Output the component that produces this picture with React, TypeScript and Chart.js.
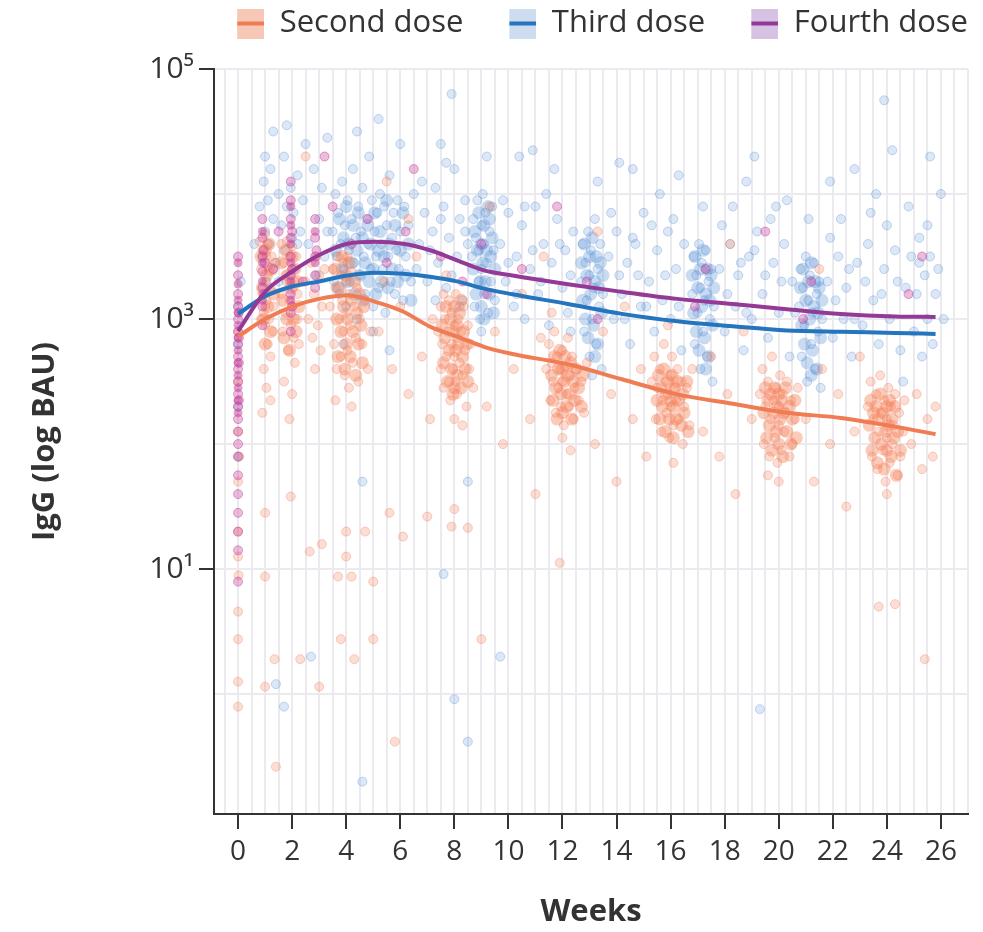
import React, { useEffect, useRef } from "react";
import { Chart, registerables } from "chart.js";

Chart.register(...registerables);

const FONT = "'Open Sans', 'Noto Sans', 'DejaVu Sans', sans-serif";

const seriesLabels = ["Second dose", "Third dose", "Fourth dose"];
const lineColors = ["rgb(240,124,84)", "rgb(36,116,190)", "rgb(148,58,150)"];
const pointFill = ["rgba(246,128,90,0.26)", "rgba(80,140,214,0.2)", "rgba(204,70,160,0.36)"];
const pointBorder = ["rgba(240,120,84,0.34)", "rgba(70,130,205,0.3)", "rgba(190,60,150,0.46)"];
const coreFill = ["rgba(246,128,88,0.42)", "rgba(74,136,210,0.3)", "rgba(196,60,150,0.5)"];
const swatchFill = ["rgb(247,200,182)", "rgb(206,220,240)", "rgb(214,195,228)"];

// fitted curves: weeks and IgG (BAU)
const curveWeeks = [0, 1, 2, 3, 4.05, 5.05, 6.1, 7.1, 8.1, 9.1, 10.15, 12.2, 14.2, 16.25, 18.3, 20.3, 22.3, 24.3, 25.8];
const secondDoseCurve = [725, 1000, 1260, 1450, 1550, 1380, 1150, 870, 725, 600, 525, 435, 330, 250, 210, 178, 162, 138, 120];
const thirdDoseCurve = [1100, 1520, 1820, 2000, 2230, 2350, 2300, 2180, 2000, 1750, 1580, 1320, 1100, 960, 875, 810, 790, 775, 760];
const fourthDoseCurve = [800, 1650, 2400, 3250, 4000, 4150, 4000, 3550, 2950, 2450, 2230, 1900, 1650, 1450, 1320, 1200, 1100, 1050, 1040];

const xTickLabels = [0, 2, 4, 6, 8, 10, 12, 14, 16, 18, 20, 22, 24, 26];
const xMin = -0.89;
const xMax = 27;
const yTickLabels: Record<number, string> = { 100000: "10⁵", 1000: "10³", 10: "10¹" };
const yGridValues = [1, 10, 100, 1000, 10000, 100000];
const yMin = 0.11;
const yMax = 100000;

// individual measurements: [week, log10 IgG]
const secondDoseScatter: [number, number][] = [
  [0, 2.9], [0, 2.5], [0, 2.1], [0, 1.7], [0, 1.3], [0, 0.66], [0, 0.44], [0.02, 0.95], [0, 0.1], [0, -0.1], [0, 1.1], [0.05, 1.9],
  [0.8, 3.62], [0.85, 3.4], [0.9, 3.55], [0.9, 3.2], [0.95, 3.05], [1.0, 3.68], [1.0, 3.3], [1.0, 2.95], [1.05, 3.5], [1.05, 3.15], [1.1, 2.8], [1.1, 3.6], [1.15, 3.38], [1.15, 3.0], [1.2, 3.25], [1.2, 2.7], [1.25, 3.5], [1.3, 3.1], [1.3, 2.9], [0.95, 2.6], [1.05, 2.45], [0.9, 2.25], [1.2, 2.35], [1.0, 1.45], [1.0, 0.94], [1.0, 0.06], [1.35, 3.45], [0.85, 3.0], [1.1, 3.42], [1.0, 3.1],
  [1.6, 3.6], [1.6, 3.2], [1.65, 2.9], [1.7, 3.45], [1.75, 3.05], [1.8, 3.62], [1.8, 3.3], [1.85, 2.75], [1.9, 3.15], [1.9, 3.5], [1.95, 2.95], [2.0, 3.4], [2.0, 3.58], [2.0, 3.1], [2.05, 2.85], [2.1, 3.3], [2.1, 2.65], [2.15, 3.5], [2.2, 3.0], [2.2, 3.2], [2.25, 2.8], [1.7, 2.5], [2.0, 2.4], [1.95, 1.58], [2.3, 0.28], [1.35, 0.28], [1.4, -0.58], [1.9, 2.2], [2.05, 3.25], [1.75, 3.35],
  [2.5, 3.3], [2.6, 3.0], [2.65, 1.14], [2.7, 3.45], [2.75, 2.85], [2.8, 3.2], [2.9, 3.5], [2.95, 2.95], [3.0, 3.35], [3.0, 0.06], [3.05, 2.75], [3.1, 1.2], [3.1, 3.1], [3.2, 3.4], [2.85, 2.6],
  [3.4, 3.1], [3.5, 3.4], [3.55, 2.8], [3.6, 3.25], [3.65, 2.6], [3.7, 3.5], [3.7, 0.94], [3.75, 3.0], [3.8, 3.35], [3.8, 2.7], [3.8, 0.44], [3.85, 3.15], [3.9, 2.9], [3.9, 3.45], [3.95, 2.55], [4.0, 3.3], [4.0, 3.05], [4.0, 1.1], [4.05, 2.75], [4.05, 3.5], [4.1, 3.2], [4.1, 2.45], [4.15, 2.95], [4.2, 3.38], [4.2, 0.94], [4.25, 2.65], [4.3, 3.1], [4.3, 0.28], [4.35, 2.85], [4.4, 3.25], [4.45, 2.5], [4.5, 3.0], [4.6, 2.8], [4.7, 1.3], [4.7, 3.15], [4.8, 2.6], [4.9, 2.9], [4.0, 1.3], [3.6, 2.35], [4.2, 2.3],
  [5.0, 0.44], [5.0, 0.9], [5.2, 2.9], [5.4, 3.3], [5.6, 1.45], [5.7, 2.6], [5.8, -0.38], [6.0, 3.1], [6.1, 1.26], [6.3, 2.4], [6.6, 3.5], [6.8, 2.7], [7.0, 1.42], [7.1, 2.2], [7.2, 3.0],
  [7.4, 2.9], [7.5, 3.1], [7.5, 2.6], [7.55, 2.8], [7.6, 3.2], [7.6, 2.45], [7.65, 3.0], [7.7, 2.7], [7.75, 2.9], [7.8, 3.15], [7.8, 2.5], [7.85, 2.35], [7.9, 2.8], [7.9, 3.05], [7.9, 1.34], [7.95, 2.6], [8.0, 2.95], [8.0, 2.7], [8.0, 1.48], [8.05, 3.2], [8.05, 2.5], [8.1, 2.85], [8.1, 2.4], [8.15, 3.0], [8.2, 2.65], [8.25, 2.9], [8.3, 2.55], [8.35, 3.1], [8.4, 2.75], [8.45, 2.3], [8.5, 2.95], [8.5, 1.33], [8.55, 2.6], [8.6, 2.8], [8.7, 2.45], [8.0, 2.2], [7.7, 3.35], [8.3, 2.15],
  [9.0, 0.44], [9.2, 2.3], [9.5, 2.9], [9.8, 2.0], [10.2, 2.6], [10.5, 3.2], [10.8, 2.2], [11.0, 1.6], [11.2, 2.85],
  [11.4, 2.6], [11.5, 2.8], [11.55, 2.35], [11.6, 2.65], [11.65, 2.5], [11.7, 2.9], [11.75, 2.25], [11.8, 2.7], [11.85, 2.45], [11.9, 2.6], [11.9, 1.05], [11.95, 2.3], [12.0, 2.75], [12.0, 2.5], [12.05, 2.15], [12.1, 2.62], [12.15, 2.4], [12.2, 2.85], [12.25, 2.3], [12.3, 2.55], [12.35, 2.7], [12.4, 2.2], [12.45, 2.45], [12.5, 2.6], [12.6, 2.35], [12.7, 2.5], [12.8, 2.25], [12.9, 2.65], [12.0, 2.05], [12.3, 1.95], [11.6, 3.05],
  [13.2, 2.0], [13.5, 2.9], [13.8, 2.4], [14.0, 1.7], [14.3, 3.1], [14.6, 2.2], [14.9, 2.6], [15.1, 1.9],
  [15.3, 2.5], [15.4, 2.7], [15.45, 2.2], [15.5, 2.45], [15.6, 2.6], [15.65, 2.1], [15.7, 2.35], [15.75, 2.8], [15.8, 2.5], [15.85, 2.25], [15.9, 2.4], [15.95, 2.05], [16.0, 2.55], [16.0, 2.3], [16.05, 2.7], [16.1, 2.15], [16.15, 2.45], [16.2, 2.35], [16.25, 2.6], [16.3, 2.2], [16.4, 2.5], [16.45, 2.0], [16.5, 2.3], [16.6, 2.45], [16.7, 2.15], [16.8, 2.6], [16.1, 1.85], [15.9, 2.95],
  [17.2, 2.1], [17.5, 2.7], [17.8, 1.9], [18.1, 2.4], [18.4, 1.6], [18.7, 2.9], [19.0, 2.2],
  [19.3, 2.4], [19.4, 2.6], [19.45, 2.0], [19.5, 2.3], [19.6, 2.5], [19.65, 1.9], [19.7, 2.2], [19.75, 2.7], [19.8, 2.35], [19.85, 2.05], [19.9, 2.45], [19.95, 1.85], [20.0, 2.3], [20.0, 2.15], [20.05, 2.55], [20.1, 1.95], [20.15, 2.4], [20.2, 2.1], [20.25, 2.25], [20.3, 2.5], [20.4, 1.9], [20.45, 2.35], [20.5, 2.0], [20.6, 2.2], [20.7, 2.45], [20.0, 1.7], [19.6, 1.75],
  [21.0, 2.2], [21.3, 1.7], [21.6, 2.6], [21.9, 2.0], [22.2, 2.4], [22.5, 1.5], [22.8, 2.1], [23.0, 2.7],
  [23.3, 2.3], [23.4, 2.5], [23.45, 1.9], [23.5, 2.2], [23.6, 2.4], [23.65, 1.8], [23.7, 2.1], [23.75, 2.55], [23.8, 2.25], [23.85, 1.95], [23.9, 2.35], [23.95, 1.7], [24.0, 2.2], [24.0, 2.05], [24.05, 2.45], [24.1, 1.85], [24.15, 2.3], [24.2, 2.0], [24.25, 2.15], [24.3, 2.4], [24.4, 1.75], [24.45, 2.25], [24.5, 1.9], [24.6, 2.1], [24.65, 2.35], [24.0, 1.6], [23.7, 0.7], [24.3, 0.72],
  [24.9, 2.0], [25.1, 2.4], [25.3, 1.8], [25.4, 0.28], [25.5, 2.2], [25.7, 1.9], [25.8, 2.3],
  [2.5, 4.3], [5.5, 4.1], [9.3, 3.9], [13.3, 3.7], [18.2, 3.6], [21.5, 3.4], [6.3, 3.8], [11.3, 3.5],
];

// dense clusters of the second-dose measurements: [week, log10 IgG]
const secondDoseCore: [number, number][] = [
  [0.85, 3.5], [0.9, 3.25], [0.95, 3.0], [1.0, 3.55], [1.0, 2.8], [1.05, 3.35], [1.1, 3.1], [1.15, 3.6], [1.2, 2.9], [1.25, 3.4], [1.3, 3.2], [1.6, 3.45], [1.65, 3.15], [1.7, 2.85], [1.75, 3.55], [1.8, 3.0], [1.85, 3.35], [1.9, 2.75], [1.95, 3.25], [2.0, 3.5], [2.05, 3.0], [2.1, 3.4], [2.15, 2.9], [2.2, 3.3], [2.25, 3.1],
  [3.6, 3.4], [3.65, 3.0], [3.7, 2.7], [3.75, 3.25], [3.8, 2.9], [3.85, 3.5], [3.9, 3.1], [3.95, 2.6], [4.0, 3.35], [4.0, 2.8], [4.05, 3.0], [4.1, 3.45], [4.15, 2.7], [4.2, 3.15], [4.25, 2.9], [4.3, 3.3], [4.35, 2.55], [4.4, 3.05], [4.45, 2.8], [4.5, 3.2], [4.55, 2.95], [4.6, 2.65], [4.65, 3.1],
  [7.55, 2.95], [7.6, 2.65], [7.65, 2.85], [7.7, 3.1], [7.75, 2.5], [7.8, 2.75], [7.85, 3.0], [7.9, 2.6], [7.95, 2.9], [8.0, 2.45], [8.0, 3.1], [8.05, 2.75], [8.1, 2.95], [8.1, 2.55], [8.15, 2.8], [8.2, 3.05], [8.25, 2.45], [8.3, 2.7], [8.35, 2.9], [8.4, 2.6], [8.45, 2.8], [8.5, 2.5], [7.95, 2.4], [8.25, 3.15],
  [11.6, 2.55], [11.65, 2.35], [11.7, 2.7], [11.75, 2.45], [11.8, 2.2], [11.85, 2.6], [11.9, 2.75], [11.95, 2.4], [12.0, 2.6], [12.0, 2.25], [12.05, 2.5], [12.1, 2.7], [12.15, 2.3], [12.2, 2.55], [12.25, 2.4], [12.3, 2.65], [12.35, 2.2], [12.4, 2.5], [12.45, 2.35], [12.5, 2.6], [12.6, 2.45], [12.7, 2.3], [12.75, 2.55],
  [15.5, 2.35], [15.55, 2.55], [15.6, 2.2], [15.65, 2.45], [15.7, 2.3], [15.75, 2.6], [15.8, 2.1], [15.85, 2.4], [15.9, 2.5], [15.95, 2.2], [16.0, 2.35], [16.05, 2.55], [16.1, 2.05], [16.1, 2.3], [16.15, 2.45], [16.2, 2.2], [16.25, 2.5], [16.3, 2.35], [16.4, 2.15], [16.45, 2.4], [16.5, 2.25], [16.6, 2.5], [16.65, 2.1],
  [19.45, 2.25], [19.5, 2.45], [19.55, 2.05], [19.6, 2.35], [19.65, 2.15], [19.7, 2.4], [19.75, 1.95], [19.8, 2.25], [19.85, 2.45], [19.9, 2.1], [19.95, 2.3], [20.0, 2.0], [20.0, 2.4], [20.05, 2.2], [20.1, 2.35], [20.15, 1.9], [20.2, 2.25], [20.25, 2.45], [20.3, 2.1], [20.4, 2.3], [20.45, 2.0], [20.5, 2.2], [20.6, 2.35], [20.65, 2.05],
  [23.35, 2.15], [23.4, 2.35], [23.45, 1.95], [23.5, 2.25], [23.55, 2.05], [23.6, 2.3], [23.65, 1.85], [23.7, 2.2], [23.75, 2.4], [23.8, 2.0], [23.85, 2.25], [23.9, 1.8], [23.95, 2.1], [24.0, 2.3], [24.0, 1.95], [24.05, 2.15], [24.1, 2.35], [24.15, 1.9], [24.2, 2.2], [24.25, 2.05], [24.3, 2.3], [24.35, 1.75], [24.4, 2.1], [24.5, 1.95],
];

const thirdDoseScatter: [number, number][] = [
  [0, 3.1], [0, 2.8], [0, 2.3], [0.1, 3.3], [0, 1.9],
  [0.8, 3.9], [0.9, 3.5], [0.95, 4.1], [1.0, 3.7], [1.05, 3.3], [1.1, 3.95], [1.15, 3.6], [1.2, 4.2], [1.3, 3.8], [1.4, 3.45], [1.5, 4.0], [1.6, 3.75], [1.7, 4.3], [1.75, 3.55], [1.8, 3.9], [1.9, 3.3], [1.95, 4.05], [2.0, 3.65], [2.05, 3.85], [2.1, 3.4], [2.2, 4.15], [2.3, 3.7], [1.4, 0.08], [1.7, -0.1], [2.7, 0.3], [1.3, 4.5], [2.4, 3.95], [2.6, 3.6], [2.8, 4.2], [3.0, 3.8], [3.2, 3.5],
  [3.5, 3.7], [3.55, 3.3], [3.6, 4.0], [3.65, 3.5], [3.7, 3.85], [3.75, 3.2], [3.8, 3.6], [3.85, 4.1], [3.9, 3.4], [3.95, 3.75], [4.0, 3.1], [4.05, 3.95], [4.1, 3.55], [4.15, 3.3], [4.2, 3.8], [4.25, 4.2], [4.3, 3.45], [4.35, 3.65], [4.4, 3.0], [4.45, 3.9], [4.5, 3.35], [4.55, 3.7], [4.6, 4.05], [4.65, 3.5], [4.7, 3.2], [4.75, 3.8], [4.8, 3.6], [4.85, 4.3], [4.9, 3.4], [4.95, 3.95], [5.0, 3.1], [5.05, 3.7], [5.1, 3.5], [5.15, 3.85], [5.2, 3.25], [5.25, 4.0], [5.3, 3.6], [5.35, 3.4], [5.4, 3.9], [5.45, 3.05], [5.5, 3.75], [5.55, 3.5], [5.6, 4.15], [5.65, 3.3], [5.7, 3.65], [5.75, 3.85], [5.8, 3.2], [5.85, 3.55], [5.9, 3.95], [5.95, 3.4], [6.0, 3.7], [6.1, 3.15], [6.15, 3.9], [6.2, 3.5], [6.3, 3.75], [6.4, 3.3], [6.5, 4.0], [4.6, 1.7], [4.6, -0.7], [4.4, 4.5], [5.2, 4.6], [6.0, 4.4], [3.9, 2.8], [5.0, 2.9], [5.6, 2.75],
  [6.7, 3.6], [6.9, 3.85], [7.0, 3.3], [7.2, 3.7], [7.3, 4.05], [7.4, 3.45], [7.6, 3.9], [7.6, 0.96], [7.7, 3.25], [7.8, 3.65], [8.0, 4.2], [8.0, -0.04], [8.1, 3.5], [8.2, 3.8], [8.3, 3.15], [8.4, 3.95], [8.5, 1.7], [8.5, -0.38], [8.5, 3.6],
  [8.65, 3.5], [8.7, 3.8], [8.75, 3.1], [8.8, 3.65], [8.85, 3.95], [8.9, 3.3], [8.9, 3.55], [8.95, 3.0], [9.0, 3.75], [9.0, 3.4], [9.05, 4.0], [9.1, 3.2], [9.1, 3.6], [9.15, 3.85], [9.2, 3.45], [9.25, 3.05], [9.3, 3.7], [9.35, 3.3], [9.4, 3.9], [9.45, 3.55], [9.5, 3.15], [9.0, 2.9], [9.2, 4.3], [9.7, 0.3],
  [9.7, 3.6], [9.9, 3.3], [10.0, 3.85], [10.2, 3.1], [10.3, 3.5], [10.5, 3.75], [10.6, 3.0], [10.8, 3.4], [11.0, 3.9], [11.1, 3.2], [11.3, 3.6], [11.5, 2.95], [11.6, 3.45], [11.8, 3.8], [12.0, 3.25], [12.1, 3.55], [12.3, 2.9], [12.4, 3.7], [10.4, 4.3], [11.7, 4.2], [12.2, 3.05],
  [12.7, 3.3], [12.75, 3.6], [12.8, 2.9], [12.85, 3.45], [12.9, 3.15], [12.95, 3.7], [13.0, 2.7], [13.0, 3.35], [13.05, 3.55], [13.1, 3.0], [13.15, 3.25], [13.2, 3.8], [13.25, 2.8], [13.3, 3.4], [13.35, 3.1], [13.4, 3.6], [13.45, 2.6], [13.5, 3.2], [13.1, 2.55], [13.3, 4.1],
  [13.7, 3.5], [13.9, 3.0], [14.0, 3.7], [14.2, 3.2], [14.4, 3.45], [14.5, 2.8], [14.7, 3.6], [14.9, 3.1], [15.0, 3.85], [15.2, 3.3], [15.4, 2.9], [15.5, 3.55], [15.7, 3.15], [15.9, 3.7], [16.0, 3.0], [16.2, 3.4], [16.4, 2.75], [16.5, 3.6], [14.6, 4.2], [15.6, 4.0],
  [16.8, 3.2], [16.85, 3.5], [16.9, 2.8], [16.95, 3.35], [17.0, 3.05], [17.05, 3.6], [17.1, 2.6], [17.1, 3.25], [17.15, 3.45], [17.2, 2.9], [17.25, 3.15], [17.3, 3.55], [17.35, 2.7], [17.4, 3.3], [17.45, 3.0], [17.5, 3.4], [17.55, 2.5], [17.6, 3.1], [17.2, 3.9],
  [17.8, 3.4], [18.0, 2.9], [18.2, 3.6], [18.4, 3.1], [18.5, 3.35], [18.7, 2.75], [18.9, 3.5], [19.0, 3.0], [19.2, 3.7], [19.3, -0.12], [19.4, 3.2], [19.6, 2.85], [19.8, 3.45], [20.0, 3.05], [20.2, 3.6], [20.4, 2.7], [20.5, 3.3], [18.8, 4.1], [19.9, 3.9],
  [20.75, 3.1], [20.8, 3.4], [20.85, 2.7], [20.9, 3.25], [20.95, 2.95], [21.0, 3.5], [21.05, 2.5], [21.1, 3.15], [21.15, 3.35], [21.2, 2.8], [21.25, 3.05], [21.3, 3.45], [21.35, 2.6], [21.4, 3.2], [21.45, 2.9], [21.5, 3.3], [21.55, 2.45], [21.6, 3.0], [21.1, 3.8],
  [21.8, 3.3], [22.0, 2.85], [22.2, 3.5], [22.4, 3.0], [22.5, 3.25], [22.7, 2.7], [22.9, 3.45], [23.1, 2.95], [23.3, 3.6], [23.5, 3.15], [23.7, 2.8], [23.9, 3.4], [24.1, 3.0], [24.3, 3.55], [24.5, 2.75], [24.7, 3.25], [24.9, 3.5], [25.0, 2.9], [25.1, 3.2], [25.2, 3.65], [25.3, 2.7], [25.4, 3.35], [25.5, 3.0], [25.6, 3.5], [25.7, 2.8], [25.8, 3.2], [23.6, 4.0], [25.6, 4.3], [22.8, 4.2], [24.6, 2.5],
  [1.8, 4.55], [3.3, 4.45], [7.5, 4.4], [10.9, 4.35], [14.1, 4.25], [16.3, 4.15], [19.1, 4.3], [21.9, 4.1], [24.2, 4.35], [26.0, 4.0], [7.9, 4.8], [23.9, 4.75],
  [0.6, 3.6], [1.0, 4.3], [1.5, 3.3], [2.2, 3.6], [2.5, 4.4], [2.9, 3.35], [3.1, 4.05], [3.3, 3.7], [6.6, 3.4], [6.8, 4.1], [7.1, 3.55], [7.3, 3.15], [7.5, 3.8], [7.7, 4.25], [7.9, 3.35], [8.2, 3.1], [8.4, 3.7], [9.8, 3.95], [10.0, 3.45], [10.3, 3.2], [10.6, 3.9], [10.9, 3.55], [11.2, 3.3], [11.4, 4.0], [11.9, 3.6], [12.3, 3.35], [13.8, 3.85], [14.1, 3.35], [14.3, 3.0], [14.6, 3.65], [14.8, 3.35], [15.1, 3.1], [15.3, 3.75], [15.8, 3.35], [16.1, 3.8], [16.3, 3.1], [17.9, 3.75], [18.1, 3.2], [18.3, 3.9], [18.6, 3.45], [18.8, 3.05], [19.1, 3.55], [19.5, 3.35], [19.7, 3.8], [20.1, 3.3], [20.3, 3.95], [20.6, 3.05], [21.9, 3.65], [22.1, 3.15], [22.3, 3.8], [22.6, 3.4], [22.8, 3.0], [23.2, 3.3], [23.4, 3.85], [23.8, 3.2], [24.0, 3.75], [24.4, 3.3], [24.8, 3.9], [25.2, 3.45], [25.5, 3.75], [25.9, 3.4], [26.1, 3.0],
];

// dense clusters of the third-dose measurements: [week, log10 IgG]
const thirdDoseCore: [number, number][] = [
  [3.6, 3.55], [3.7, 3.25], [3.75, 3.8], [3.85, 3.4], [3.9, 3.65], [4.0, 3.9], [4.05, 3.3], [4.1, 3.6], [4.2, 3.45], [4.25, 3.75], [4.3, 3.2], [4.4, 3.55], [4.45, 3.85], [4.5, 3.35], [4.6, 3.65], [4.65, 3.15], [4.7, 3.45], [4.8, 3.75], [4.85, 3.3], [4.9, 3.6], [5.0, 3.4], [5.05, 3.85], [5.1, 3.2], [5.2, 3.55], [5.25, 3.7], [5.3, 3.3], [5.4, 3.5], [5.5, 3.95], [5.55, 3.25], [5.6, 3.6], [5.7, 3.4], [5.8, 3.75], [5.9, 3.3], [6.0, 3.55], [6.1, 3.85], [6.2, 3.35], [6.3, 3.6], [6.4, 3.15],
  [8.7, 3.4], [8.75, 3.7], [8.8, 3.2], [8.85, 3.55], [8.9, 3.85], [8.95, 3.3], [9.0, 3.6], [9.0, 3.1], [9.05, 3.45], [9.1, 3.75], [9.15, 3.3], [9.2, 3.55], [9.25, 3.9], [9.3, 3.2], [9.35, 3.5], [9.4, 3.65], [9.45, 3.05], [9.5, 3.4], [9.1, 3.0], [9.3, 3.8],
  [12.7, 3.45], [12.75, 3.15], [12.8, 3.6], [12.85, 3.0], [12.9, 3.35], [12.95, 2.85], [13.0, 3.5], [13.05, 3.2], [13.1, 3.65], [13.15, 2.95], [13.2, 3.3], [13.25, 3.5], [13.3, 2.8], [13.35, 3.25], [13.4, 3.45], [13.45, 3.05], [13.5, 3.35], [13.2, 2.7],
  [16.8, 3.35], [16.85, 3.05], [16.9, 3.5], [16.95, 2.9], [17.0, 3.25], [17.05, 2.75], [17.1, 3.4], [17.15, 3.1], [17.2, 3.55], [17.25, 2.85], [17.3, 3.2], [17.35, 3.4], [17.4, 2.7], [17.45, 3.15], [17.5, 3.35], [17.55, 2.95], [17.6, 3.25], [17.3, 2.6],
  [20.8, 3.25], [20.85, 2.95], [20.9, 3.4], [20.95, 2.8], [21.0, 3.15], [21.05, 2.65], [21.1, 3.3], [21.15, 3.0], [21.2, 3.45], [21.25, 2.75], [21.3, 3.1], [21.35, 3.3], [21.4, 2.6], [21.45, 3.05], [21.5, 3.25], [21.55, 2.85], [21.6, 3.15], [21.2, 2.55],
];

const fourthDoseScatter: [number, number][] = [
  [0, 3.5], [0, 3.35], [0, 3.2], [0, 3.1], [0, 3.0], [0, 2.9], [0, 2.8], [0, 2.7], [0, 2.6], [0, 2.5], [0, 2.4], [0, 2.3], [0, 2.2], [0, 2.1], [0, 2.0], [0, 1.9], [0, 1.75], [0, 1.6], [0, 1.45], [0, 1.3], [0, 1.15], [0.03, 3.05], [0.03, 2.65], [0.03, 2.35], [0.03, 2.85], [0, 0.9],
  [0.9, 3.8], [0.9, 3.65], [0.9, 3.5], [0.9, 3.38], [0.9, 3.25], [0.9, 3.1], [0.9, 2.95], [0.95, 3.55], [0.95, 3.2], [1.0, 3.45],
  [1.95, 4.1], [1.95, 3.95], [1.95, 3.8], [1.95, 3.65], [1.95, 3.5], [1.95, 3.35], [1.95, 3.2], [1.95, 3.05], [1.95, 2.9], [2.0, 3.7], [2.0, 3.4], [2.0, 3.1],
  [2.85, 3.8], [2.85, 3.65], [2.85, 3.5], [2.85, 3.35], [2.85, 3.25], [2.9, 3.55],
  [1.3, 3.4], [1.5, 3.7], [2.4, 3.3], [3.5, 3.9], [4.2, 3.6], [4.8, 3.8], [5.5, 3.45], [6.2, 3.7], [7.5, 3.5], [8.3, 3.3], [9.0, 3.6], [9.2, 3.2], [10.5, 3.4], [12.9, 3.3], [13.3, 3.0], [16.9, 3.1], [17.3, 3.4], [20.9, 3.0], [21.2, 3.3], [24.8, 3.2], [25.3, 3.5], [3.2, 4.3], [6.5, 4.2], [11.8, 3.9], [19.5, 3.7],
];

// dense columns of the fourth-dose measurements: [week, log10 IgG]
const fourthDoseCore: [number, number][] = [
  [0, 3.45], [0, 3.28], [0, 3.15], [0, 3.05], [0, 2.95], [0, 2.85], [0, 2.75], [0, 2.65], [0, 2.55], [0, 2.45], [0, 2.35], [0, 2.25],
  [0.9, 3.7], [0.9, 3.45], [0.9, 3.3], [0.9, 3.15], [1.95, 3.9], [1.95, 3.75], [1.95, 3.6], [1.95, 3.45], [1.95, 3.3], [1.95, 3.15], [2.85, 3.7], [2.85, 3.45],
];

const scatterSets = [secondDoseScatter, thirdDoseScatter, fourthDoseScatter];
const coreSets = [secondDoseCore, thirdDoseCore, fourthDoseCore];
const curveSets = [secondDoseCurve, thirdDoseCurve, fourthDoseCurve];

function makeSwatch(fill: string, line: string): HTMLCanvasElement {
  const c = document.createElement("canvas");
  const margin = 46;
  c.width = margin + 27;
  c.height = 30;
  const g = c.getContext("2d")!;
  g.fillStyle = fill;
  g.fillRect(margin, 0, 27, 30);
  g.fillStyle = line;
  g.fillRect(margin, 13, 27, 4);
  return c;
}

export default function App() {
  const ref = useRef<HTMLCanvasElement | null>(null);

  useEffect(() => {
    document.documentElement.style.overflow = "hidden";
    const canvas = ref.current;
    if (!canvas) return;
    const swatches = seriesLabels.map((_, i) => makeSwatch(swatchFill[i], lineColors[i]));
    const xGridValues: number[] = [];
    for (let v = -0.5; v <= xMax; v += 0.5) xGridValues.push(v);

    const lineDatasets = seriesLabels.map((label, i) => ({
      type: "line" as const,
      label,
      data: curveWeeks.map((w, j) => ({ x: w, y: curveSets[i][j] })),
      borderColor: lineColors[i],
      backgroundColor: lineColors[i],
      borderWidth: 4,
      pointRadius: 0,
      cubicInterpolationMode: "monotone" as const,
      fill: false,
      order: 2 - i,
    }));
    // drawing order (higher = further back): blue behind orange, purple on top
    const scatterOrder = [13, 15, 11];
    const scatterDatasets = seriesLabels.map((label, i) => ({
      type: "scatter" as const,
      label: label + " measurements",
      data: scatterSets[i].map(([w, l]) => ({ x: w, y: Math.pow(10, l) })),
      backgroundColor: pointFill[i],
      borderColor: pointBorder[i],
      borderWidth: 1,
      pointRadius: 4.5,
      showLine: false,
      order: scatterOrder[i],
    }));
    const coreDatasets = seriesLabels.map((label, i) => ({
      type: "scatter" as const,
      label: label + " dense measurements",
      data: coreSets[i].map(([w, l]) => ({ x: w, y: Math.pow(10, l) })),
      backgroundColor: coreFill[i],
      borderColor: "rgba(0,0,0,0)",
      borderWidth: 0,
      pointRadius: i === 2 ? 4.5 : 6.5,
      showLine: false,
      order: scatterOrder[i] + 1,
    }));

    const chart = new Chart(canvas, {
      type: "scatter",
      data: { datasets: [...lineDatasets, ...scatterDatasets, ...coreDatasets] as any },
      options: {
        responsive: false,
        animation: false,
        events: [],
        layout: { padding: { top: 0, right: 7, left: 0, bottom: 0 } },
        plugins: {
          tooltip: { enabled: false },
          title: { display: true, text: "", weight: 500, padding: { top: 8, bottom: 0 }, font: { size: 10 } } as any,
          legend: {
            position: "top",
            align: "end",
            labels: {
              usePointStyle: true,
              pointStyleWidth: 73,
              boxHeight: 30,
              padding: 0,
              color: "#333",
              font: { family: FONT, size: 31 },
              generateLabels: () =>
                seriesLabels.map((text, i) => ({
                  text,
                  pointStyle: swatches[i] as any,
                  fillStyle: swatchFill[i],
                  strokeStyle: lineColors[i],
                  lineWidth: 0,
                  hidden: false,
                  datasetIndex: i,
                  fontColor: "#333",
                })),
            },
          },
        },
        scales: {
          x: {
            type: "linear",
            min: xMin,
            max: xMax,
            afterBuildTicks: (scale: any) => {
              scale.ticks = xGridValues.map((v) => ({ value: v }));
            },
            afterFit: (scale: any) => {
              scale.height = 118;
            },
            ticks: {
              autoSkip: false,
              maxRotation: 0,
              padding: 6,
              color: "#333",
              font: { family: FONT, size: 28 },
              callback: (v: any) => (xTickLabels.includes(Number(v)) ? String(v) : ""),
            },
            grid: {
              color: "#ebebef",
              lineWidth: 2,
              tickLength: 15,
              tickWidth: 2,
              tickColor: (ctx: any) => (ctx.tick && xTickLabels.includes(ctx.tick.value) ? "#333" : "rgba(0,0,0,0)"),
            },
            border: { color: "#333", width: 2 },
            title: {
              display: true,
              text: "Weeks",
              color: "#333",
              font: { family: FONT, size: 31, weight: "bold" },
              padding: { top: 0, bottom: 1 },
            },
          },
          y: {
            type: "logarithmic",
            min: yMin,
            max: yMax,
            afterBuildTicks: (scale: any) => {
              scale.ticks = yGridValues.map((v) => ({ value: v }));
            },
            afterFit: (scale: any) => {
              scale.width = 206;
            },
            ticks: {
              autoSkip: false,
              padding: 5,
              color: "#333",
              font: { family: FONT, size: 30 },
              callback: (v: any) => yTickLabels[Number(v)] ?? "",
            },
            grid: {
              color: "#ebebef",
              lineWidth: 2,
              tickLength: 15,
              tickWidth: 2,
              tickColor: (ctx: any) => (ctx.tick && yTickLabels[ctx.tick.value] ? "#333" : "rgba(0,0,0,0)"),
            },
            border: { color: "#333", width: 2 },
            title: {
              display: true,
              text: "IgG (log BAU)",
              color: "#333",
              font: { family: FONT, size: 31, weight: "bold" },
              padding: { top: 19, bottom: 0 },
            },
          },
        },
      },
    });
    return () => chart.destroy();
  }, []);

  return (
    <div style={{ width: 967, height: 924 }}>
      <canvas ref={ref} width={967} height={924} style={{ display: "block" }} />
    </div>
  );
}
